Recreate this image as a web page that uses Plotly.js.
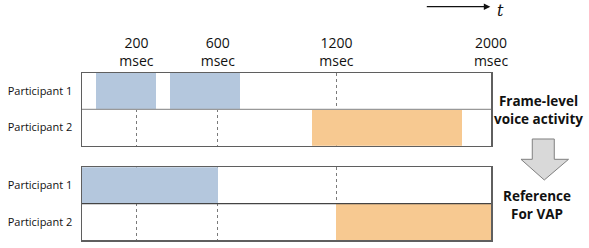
<!DOCTYPE html>
<html>
<head>
<meta charset="utf-8">
<script src="https://cdn.plot.ly/plotly-3.0.1.min.js"></script>
<style>html,body{margin:0;padding:0;background:#fff;}#chart{width:589px;height:248px;}</style>
</head>
<body>
<div id="chart"></div>
<script>
// Schematic time axis: positions given as % of the 0–2000 msec window as drawn
const participants = ["Participant 1", "Participant 2"];
const tickPos = [13.3, 33.2, 62.2, 100];
const tickLabels = ["200<br>msec", "600<br>msec", "1200<br>msec", "2000<br>msec"];

// Frame-level voice activity segments (start, end)
const frameP1Start = [3.3, 21.4];
const frameP1End   = [18.0, 38.7];
const frameP2Start = [56.3];
const frameP2End   = [92.9];

// Reference for VAP segments (start, end)
const refP1Start = [0];
const refP1End   = [33.2];
const refP2Start = [62.2];
const refP2End   = [100];

const rowLabels = ["Frame-level<br>voice activity", "Reference<br>For VAP"];

const BLUE = "#b4c7dd";
const ORANGE = "#f7c991";

function seg(starts, ends, who, color, xa, ya) {
  return {
    type: "bar", orientation: "h",
    base: starts,
    x: ends.map((e, i) => e - starts[i]),
    y: starts.map(() => who),
    width: 1,
    marker: {color: color, line: {width: 0}},
    xaxis: xa, yaxis: ya,
    hoverinfo: "skip", showlegend: false
  };
}

const traces = [
  seg(frameP1Start, frameP1End, participants[0], BLUE, "x", "y"),
  seg(frameP2Start, frameP2End, participants[1], ORANGE, "x", "y"),
  seg(refP1Start, refP1End, participants[0], BLUE, "x2", "y2"),
  seg(refP2Start, refP2End, participants[1], ORANGE, "x2", "y2")
];

// pixel -> paper helpers (plot area: x 81.5..490.7, y 73..240)
const L = 81.5, W = 409.2, B = 240, H = 167;
const px = v => (v - L) / W;
const py = v => (B - v) / H;

const xBase = {
  range: [0, 100], tickmode: "array", tickvals: tickPos,
  showgrid: true, gridcolor: "#7a7a7a", griddash: "dot", gridwidth: 1,
  zeroline: false, showline: true, mirror: true, linecolor: "#5f5f5f", linewidth: 1.5,
  ticks: "", fixedrange: true
};
const yBase = {
  type: "category", categoryorder: "array", categoryarray: [participants[1], participants[0]],
  range: [-0.5, 1.5], showgrid: false, zeroline: false,
  showline: true, mirror: true, linecolor: "#5f5f5f", linewidth: 1.5,
  ticks: "", tickfont: {family: "Open Sans", size: 11, color: "#111"},
  ticklabelstandoff: 6, fixedrange: true
};

const arrowPath = () => {
  const pts = [[532, 139], [554, 139], [554, 159.3], [568.3, 159.3], [544, 180], [520.7, 159.3], [532, 159.3]];
  return "M " + pts.map(p => px(p[0]).toFixed(4) + "," + py(p[1]).toFixed(4)).join(" L ") + " Z";
};

const layout = {
  width: 589, height: 248,
  margin: {l: 81.5, r: 98.3, t: 73, b: 8, pad: 0},
  paper_bgcolor: "#fff", plot_bgcolor: "#fff",
  barmode: "overlay", bargap: 0,
  font: {family: "Open Sans", color: "#111"},
  xaxis: Object.assign({}, xBase, {
    side: "top", anchor: "y", ticktext: tickLabels, showticklabels: true,
    tickfont: {family: "Open Sans", size: 14, color: "#111"}, ticklabelstandoff: 0
  }),
  xaxis2: Object.assign({}, xBase, {anchor: "y2", ticktext: tickLabels, showticklabels: false}),
  yaxis: Object.assign({}, yBase, {domain: [0.5647, 1], anchor: "x"}),
  yaxis2: Object.assign({}, yBase, {domain: [0, 0.4353], anchor: "x2"}),
  shapes: [
    {type: "line", xref: "x", yref: "y", x0: 0, x1: 100, y0: 0.5, y1: 0.5, line: {color: "#999", width: 1.3}, layer: "above"},
    {type: "line", xref: "x2", yref: "y2", x0: 0, x1: 100, y0: 0.5, y1: 0.5, line: {color: "#444", width: 1.3}, layer: "above"},
    {type: "path", xref: "paper", yref: "paper", path: arrowPath(), fillcolor: "#d9d9d9", line: {color: "#808080", width: 1}}
  ],
  annotations: [
    {xref: "paper", yref: "paper", x: px(538), y: py(110), text: "<b>" + rowLabels[0] + "</b>", showarrow: false,
     font: {family: "Open Sans", size: 13.5, color: "#111"}, xanchor: "center", yanchor: "middle"},
    {xref: "paper", yref: "paper", x: px(537), y: py(205), text: "<b>" + rowLabels[1] + "</b>", showarrow: false,
     font: {family: "Open Sans", size: 13.5, color: "#111"}, xanchor: "center", yanchor: "middle"},
    {xref: "paper", yref: "paper", x: px(490), y: py(6.7), ax: -65, ay: 0, text: "", showarrow: true,
     arrowhead: 2, arrowsize: 1, arrowwidth: 1.3, arrowcolor: "#111"},
    {xref: "paper", yref: "paper", x: px(500), y: py(10), text: "<i>t</i>", showarrow: false,
     font: {family: "DejaVu Serif", size: 16, color: "#111"}, xanchor: "center", yanchor: "middle"}
  ]
};

Plotly.newPlot("chart", traces, layout, {staticPlot: true, displayModeBar: false});
</script>
</body>
</html>
